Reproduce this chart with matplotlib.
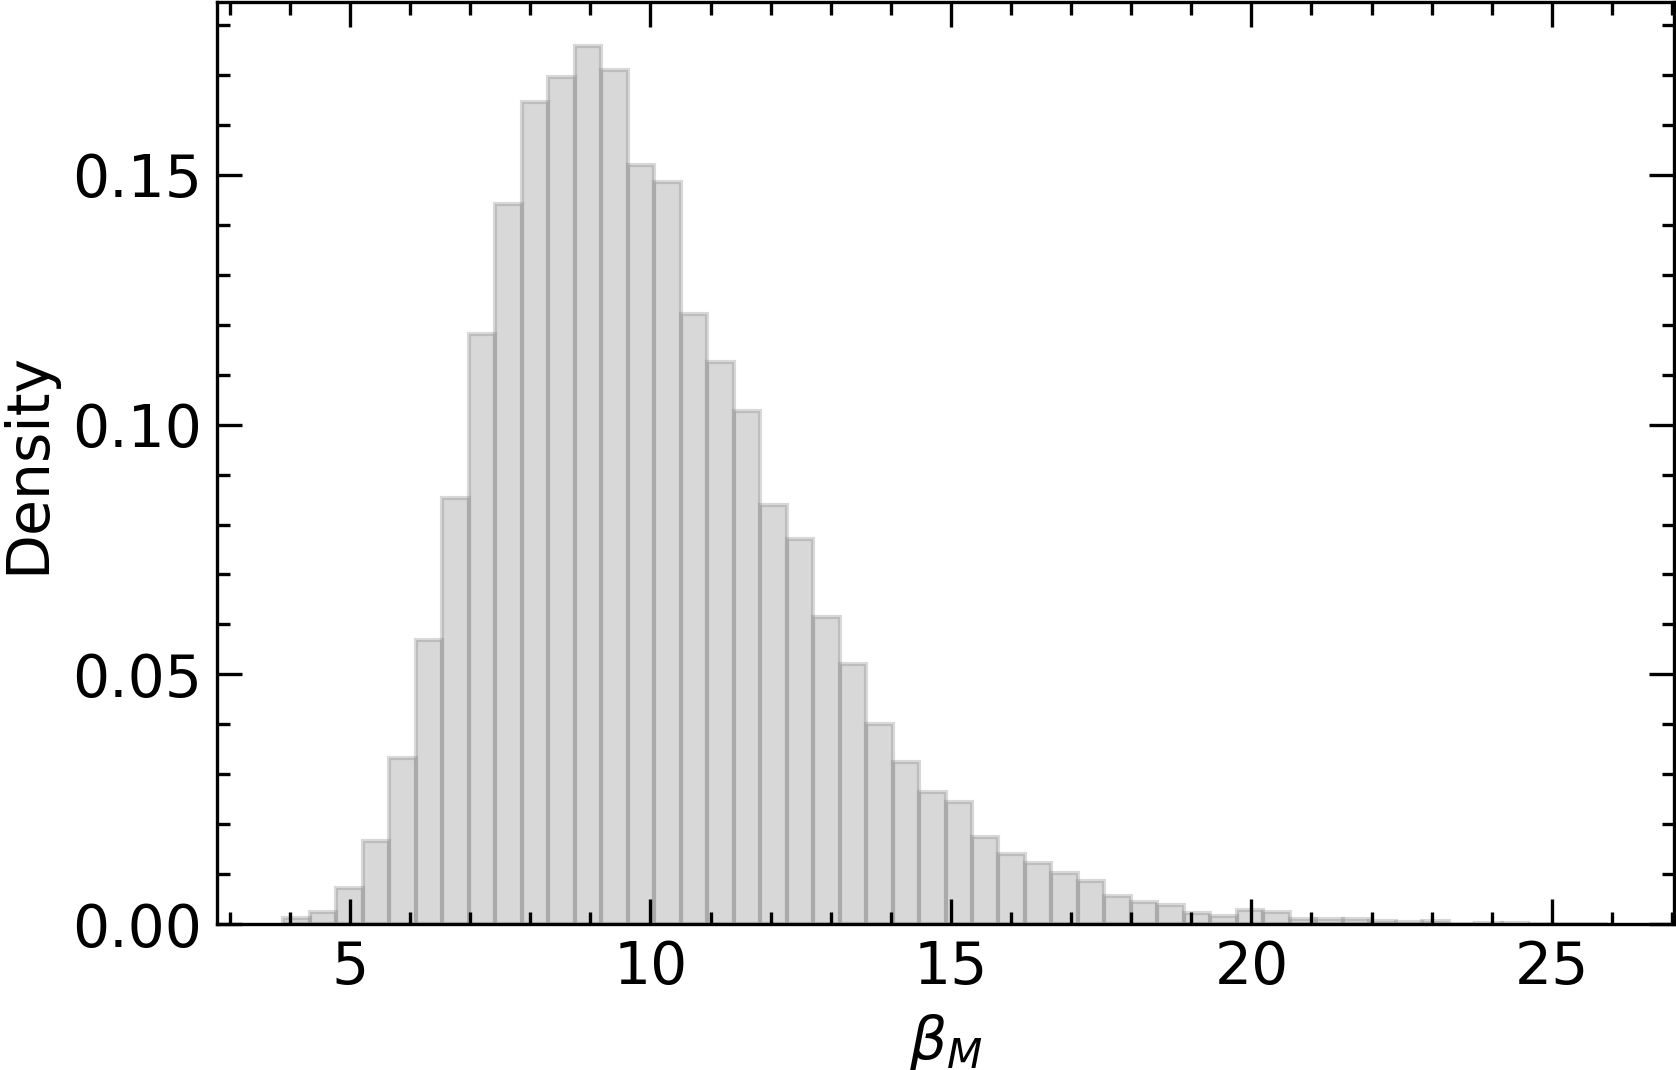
import numpy as np
import matplotlib
matplotlib.use("Agg")
import matplotlib.pyplot as plt

# histogram of beta_M, density per bin
bin_start = 3.89
bin_stop = 25.93
n_bins = 50
density = [0.0012, 0.0025, 0.0072, 0.0167, 0.0332, 0.0569, 0.0853, 0.1182, 0.1441, 0.1645,
           0.1697, 0.1758, 0.1710, 0.1520, 0.1485, 0.1222, 0.1125, 0.1027, 0.0840, 0.0770,
           0.0614, 0.0520, 0.0401, 0.0325, 0.0265, 0.0245, 0.0175, 0.0141, 0.0123, 0.0102,
           0.0086, 0.0057, 0.0045, 0.0039, 0.0022, 0.0017, 0.0029, 0.0024, 0.0011, 0.0011,
           0.0010, 0.0006, 0.0005, 0.0006, 0.0001, 0.0002, 0.0003, 0.0001, 0.0001, 0.0001]

edges = np.linspace(bin_start, bin_stop, n_bins + 1)

plt.rcParams['font.size'] = 14
fig = plt.figure(figsize=(1676 / 300, 1070 / 300), dpi=300)
ax = fig.add_axes([0.1295, 0.1364, 0.8693, 0.8616])

ax.hist(edges[:-1], bins=edges, weights=density, color='gray', edgecolor='gray',
        alpha=0.3, linewidth=1.0)

ax.set_xlabel(r'$\beta_M$')
ax.set_ylabel('Density')
ax.minorticks_on()
ax.tick_params(which='both', direction='in', top=True, right=True)
ax.tick_params(which='major', length=6, width=0.8)
ax.tick_params(which='minor', length=3, width=0.8)
ax.set_yticks([0.0, 0.05, 0.10, 0.15])

fig.savefig('out.png', dpi=300)
